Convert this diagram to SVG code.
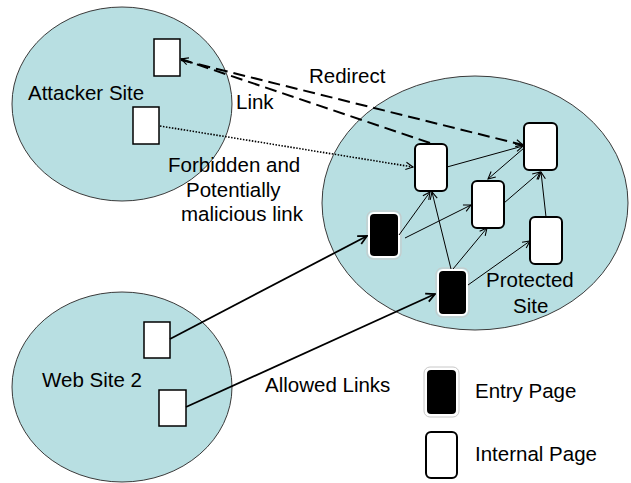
<svg xmlns="http://www.w3.org/2000/svg" width="631" height="483" viewBox="0 0 631 483">
  <defs>
    <style>
      .site { fill: #b8dfe2; stroke: #3a3a3a; stroke-width: 1; }
      .page { fill: #ffffff; stroke: #000000; stroke-width: 1.5; }
      .internal { fill: #ffffff; stroke: #000000; stroke-width: 2; }
      .entry { fill: #000000; stroke: #ffffff; stroke-width: 2; }
      .entry-halo { fill: none; stroke: #c8c8c8; stroke-width: 1; }
      .label { font-family: "Liberation Sans", Arial, sans-serif; font-size: 20.5px; fill: #000000; }
      .thin { fill: none; stroke: #000000; stroke-width: 1; }
      .bold { fill: none; stroke: #000000; stroke-width: 1.8; }
      .dashed { fill: none; stroke: #000000; stroke-width: 2; stroke-dasharray: 12 6; }
      .dotted { fill: none; stroke: #000000; stroke-width: 1.6; stroke-dasharray: 1.5 1.5; }
    </style>
    <marker id="arrow" viewBox="0 0 10 10" refX="9" refY="5" markerWidth="9" markerHeight="9" markerUnits="userSpaceOnUse" orient="auto">
      <path d="M1,1 L9,5 L1,9" fill="none" stroke="#000000" stroke-width="1.2"/>
    </marker>
    <marker id="arrow-bold" viewBox="0 0 10 10" refX="9" refY="5" markerWidth="11" markerHeight="11" markerUnits="userSpaceOnUse" orient="auto">
      <path d="M1,1 L9,5 L1,9" fill="none" stroke="#000000" stroke-width="1.6"/>
    </marker>
  </defs>

  <!-- sites -->
  <g id="attacker-site">
    <ellipse class="site" cx="122" cy="104" rx="110" ry="97"/>
    <text class="label" x="28" y="100">Attacker Site</text>
    <rect id="attacker-page-1" class="page" x="154" y="39" width="26" height="37"/>
    <rect id="attacker-page-2" class="page" x="133" y="107" width="26" height="37"/>
  </g>

  <g id="web-site-2">
    <ellipse class="site" cx="122" cy="387" rx="110" ry="95"/>
    <text class="label" x="42" y="387">Web Site 2</text>
    <rect id="web-page-1" class="page" x="144" y="322" width="26" height="36"/>
    <rect id="web-page-2" class="page" x="159" y="390" width="27" height="36"/>
  </g>

  <g id="protected-site">
    <ellipse class="site" cx="475" cy="203" rx="153" ry="127"/>
    <text class="label" x="486" y="287">Protected</text>
    <text class="label" x="513" y="313">Site</text>
  </g>

  <!-- pages of the protected site -->
  <g id="page-a"><rect class="internal" x="415" y="144" width="32" height="47" rx="5"/></g>
  <g id="page-b"><rect class="internal" x="524" y="123" width="33" height="47" rx="5"/></g>
  <g id="page-c"><rect class="internal" x="472" y="181" width="32" height="47" rx="5"/></g>
  <g id="page-d"><rect class="internal" x="530" y="217" width="32" height="47" rx="5"/></g>
  <g id="entry-e">
    <rect class="entry-halo" x="367" y="211" width="34" height="48" rx="6"/>
    <rect class="entry" x="369" y="213" width="30" height="44" rx="5"/>
  </g>
  <g id="entry-f">
    <rect class="entry-halo" x="436" y="268" width="33" height="49" rx="6"/>
    <rect class="entry" x="438" y="270" width="29" height="45" rx="5"/>
  </g>

  <!-- connectors -->
  <g id="connectors">
    <line class="thin" x1="447" y1="167" x2="523" y2="146" marker-end="url(#arrow)"/>
    <line class="thin" x1="524" y1="148" x2="488" y2="179" marker-end="url(#arrow)"/>
    <line class="thin" x1="504" y1="203" x2="540" y2="172" marker-end="url(#arrow)"/>
    <line class="thin" x1="546" y1="217" x2="541" y2="172" marker-end="url(#arrow)"/>
    <line class="thin" x1="399" y1="235" x2="430" y2="192" marker-end="url(#arrow)"/>
    <line class="thin" x1="405" y1="238" x2="471" y2="205" marker-end="url(#arrow)"/>
    <line class="thin" x1="451" y1="269" x2="432" y2="192" marker-end="url(#arrow)"/>
    <line class="thin" x1="453" y1="269" x2="487" y2="228" marker-end="url(#arrow)"/>
    <line class="thin" x1="468" y1="285" x2="530" y2="241" marker-end="url(#arrow)"/>

    <line class="bold" x1="170" y1="339" x2="367" y2="236" marker-end="url(#arrow-bold)"/>
    <line class="bold" x1="186" y1="407" x2="435" y2="294" marker-end="url(#arrow-bold)"/>

    <line class="dashed" x1="430" y1="143" x2="181" y2="59" marker-end="url(#arrow)"/>
    <line class="dashed" x1="181" y1="60" x2="523" y2="145" marker-end="url(#arrow)"/>

    <line class="dotted" x1="160" y1="126" x2="413" y2="167" marker-end="url(#arrow)"/>
  </g>

  <!-- connector labels -->
  <text class="label" x="309" y="83">Redirect</text>
  <text class="label" x="236" y="109">Link</text>
  <text class="label" x="168" y="172">Forbidden and</text>
  <text class="label" x="186" y="197">Potentially</text>
  <text class="label" x="181" y="221">malicious link</text>
  <text class="label" x="265" y="392">Allowed Links</text>

  <!-- legend -->
  <g id="legend-entry">
    <rect class="entry-halo" x="424" y="367" width="35" height="50" rx="6"/>
    <rect class="entry" x="426" y="369" width="31" height="46" rx="5"/>
    <text class="label" x="475" y="398">Entry Page</text>
  </g>
  <g id="legend-internal">
    <rect class="internal" x="426" y="432" width="31" height="46" rx="5"/>
    <text class="label" x="475" y="461">Internal Page</text>
  </g>
</svg>
